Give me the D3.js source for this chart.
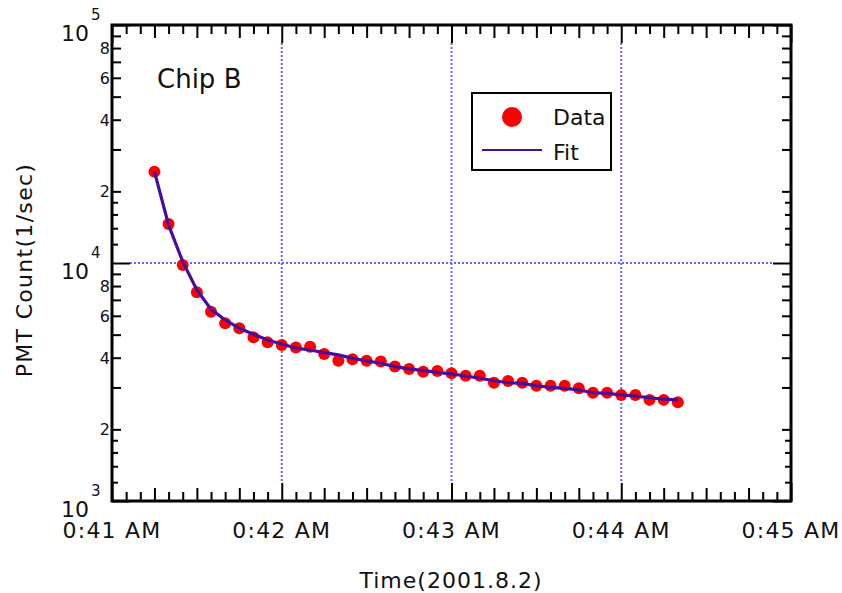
<!DOCTYPE html>
<html>
<head>
<meta charset="utf-8">
<script src="https://cdn.jsdelivr.net/npm/d3@7"></script>
<style>
  body { margin: 0; background: #fff; }
  svg { display: block; font-family: "DejaVu Sans", sans-serif; }
</style>
</head>
<body>
<div id="chart"></div>
<script>
// sample times (2001.8.2), every 5 s
var times = ["0:41:15","0:41:20","0:41:25","0:41:30","0:41:35","0:41:40","0:41:45","0:41:50",
             "0:41:55","0:42:00","0:42:05","0:42:10","0:42:15","0:42:20","0:42:25","0:42:30",
             "0:42:35","0:42:40","0:42:45","0:42:50","0:42:55","0:43:00","0:43:05","0:43:10",
             "0:43:15","0:43:20","0:43:25","0:43:30","0:43:35","0:43:40","0:43:45","0:43:50",
             "0:43:55","0:44:00","0:44:05","0:44:10","0:44:15","0:44:20"];
// measured PMT count (1/sec)
var counts = [24190,14580,9810,7530,6240,5580,5320,4870,
              4640,4520,4420,4450,4150,3880,3940,3880,
              3860,3670,3590,3490,3520,3440,3360,3360,
              3140,3190,3140,3050,3050,3050,2975,2850,
              2850,2790,2790,2660,2660,2600];
// fitted curve at the same times
var fitCounts = [24190,14440,10130,7700,6390,5760,5320,5020,
                 4750,4570,4390,4310,4200,4110,3980,3880,
                 3790,3670,3590,3530,3470,3420,3350,3280,
                 3200,3140,3120,3050,3000,2975,2930,2850,
                 2835,2790,2760,2715,2680,2660];
var xTickLabels = ["0:41 AM","0:42 AM","0:43 AM","0:44 AM","0:45 AM"];
var yLabelValues = [2,4,6,8];
var decades = [1e3,1e4,1e5];

var W = 842, H = 593;
var plotL = 112, plotR = 791, plotT = 25, plotB = 501;

function parseT(s) {
    var p = s.split(":").map(Number);
    return new Date(2001, 7, 2, p[0], p[1], p[2] || 0);
}

var x = d3.scaleTime()
    .domain([parseT("0:41:00"), parseT("0:45:00")])
    .range([plotL, plotR]);
var y = d3.scaleLog()
    .domain([1e3, 1e5])
    .range([plotB, plotT]);

var svg = d3.select("#chart").append("svg")
    .attr("width", W)
    .attr("height", H);

// tick sets
var majorX = d3.timeMinute.range(parseT("0:41:00"), parseT("0:45:01"));
var midX = d3.timeSecond.every(15).range(parseT("0:41:00"), parseT("0:45:00"))
    .filter(function(d) { return d.getSeconds() !== 0; });
var minorX = d3.timeSecond.every(5).range(parseT("0:41:00"), parseT("0:45:00"))
    .filter(function(d) { return d.getSeconds() % 15 !== 0; });
var minorY = [], fracY = [];
[1e3, 1e4].forEach(function(dec) {
    [1.2,1.4,1.6,1.8].forEach(function(m) { fracY.push(m * dec); });
    [2,3,4,5,6,7,8,9].forEach(function(m) { minorY.push(m * dec); });
});

// grid (dotted blue)
var grid = svg.append("g")
    .attr("stroke", "#6464ff")
    .attr("stroke-width", 2)
    .attr("stroke-dasharray", "2,2");
grid.selectAll("line.v")
    .data(majorX.slice(1, -1))
    .enter().append("line")
    .attr("x1", function(d) { return x(d); })
    .attr("x2", function(d) { return x(d); })
    .attr("y1", plotT + 18)
    .attr("y2", plotB - 18);
grid.append("line")
    .attr("x1", plotL + 18)
    .attr("x2", plotR - 18)
    .attr("y1", y(1e4))
    .attr("y2", y(1e4));

// inward ticks on all four sides
function tickAxis(axisFn, scale, values, len, transform) {
    var g = svg.append("g")
        .attr("transform", transform)
        .call(axisFn(scale).tickValues(values).tickSize(-len).tickFormat(""));
    g.select(".domain").remove();
    g.selectAll("line").attr("stroke", "#000").attr("stroke-width", 2);
}
tickAxis(d3.axisBottom, x, majorX, 18, "translate(0," + plotB + ")");
tickAxis(d3.axisBottom, x, midX, 13, "translate(0," + plotB + ")");
tickAxis(d3.axisBottom, x, minorX, 9, "translate(0," + plotB + ")");
tickAxis(d3.axisTop, x, majorX, 18, "translate(0," + plotT + ")");
tickAxis(d3.axisTop, x, midX, 13, "translate(0," + plotT + ")");
tickAxis(d3.axisTop, x, minorX, 9, "translate(0," + plotT + ")");
tickAxis(d3.axisLeft, y, decades, 18, "translate(" + plotL + ",0)");
tickAxis(d3.axisLeft, y, minorY, 9, "translate(" + plotL + ",0)");
tickAxis(d3.axisLeft, y, fracY, 6, "translate(" + plotL + ",0)");
tickAxis(d3.axisRight, y, decades, 18, "translate(" + plotR + ",0)");
tickAxis(d3.axisRight, y, minorY, 9, "translate(" + plotR + ",0)");
tickAxis(d3.axisRight, y, fracY, 6, "translate(" + plotR + ",0)");

// frame
svg.append("rect")
    .attr("x", plotL)
    .attr("y", plotT)
    .attr("width", plotR - plotL)
    .attr("height", plotB - plotT)
    .attr("fill", "none")
    .attr("stroke", "#000")
    .attr("stroke-width", 3);

// x tick labels
svg.append("g").selectAll("text")
    .data(majorX)
    .enter().append("text")
    .attr("x", function(d) { return x(d); })
    .attr("y", plotB + 37)
    .attr("text-anchor", "middle")
    .attr("font-size", 22)
    .attr("letter-spacing", 1.2)
    .attr("fill", "#111")
    .text(function(d, i) { return xTickLabels[i]; });

// y tick labels: decades with superscript
var decG = svg.append("g").selectAll("g")
    .data(decades)
    .enter().append("g");
decG.append("text")
    .attr("x", plotL - 51)
    .attr("y", function(d) { return y(d) + 16; })
    .attr("font-size", 22)
    .attr("fill", "#111")
    .text("10");
decG.append("text")
    .attr("x", plotL - 21)
    .attr("y", function(d) { return y(d) - 5; })
    .attr("font-size", 15)
    .attr("fill", "#111")
    .text(function(d) { return Math.round(Math.log10(d)); });

// y tick labels: 2 4 6 8
var mLabels = [];
[1e3, 1e4].forEach(function(dec) {
    yLabelValues.forEach(function(m) { mLabels.push({v: m * dec, m: m}); });
});
svg.append("g").selectAll("text")
    .data(mLabels)
    .enter().append("text")
    .attr("x", plotL - 2)
    .attr("y", function(d) { return y(d.v) + 6; })
    .attr("text-anchor", "end")
    .attr("font-size", 16)
    .attr("fill", "#111")
    .text(function(d) { return d.m; });

// axis titles
svg.append("text")
    .attr("x", 451)
    .attr("y", 588)
    .attr("text-anchor", "middle")
    .attr("font-size", 22)
    .attr("letter-spacing", 1)
    .attr("fill", "#111")
    .text("Time(2001.8.2)");
svg.append("text")
    .attr("transform", "translate(32,270) rotate(-90)")
    .attr("text-anchor", "middle")
    .attr("font-size", 22)
    .attr("letter-spacing", 1.3)
    .attr("fill", "#111")
    .text("PMT Count(1/sec)");

svg.append("text")
    .attr("x", 157)
    .attr("y", 88)
    .attr("font-size", 26)
    .attr("fill", "#111")
    .text("Chip B");

// data and fit
var data = times.map(function(t, i) {
    return {t: parseT(t), v: counts[i], f: fitCounts[i]};
});
svg.append("g").selectAll("circle")
    .data(data)
    .enter().append("circle")
    .attr("cx", function(d) { return x(d.t); })
    .attr("cy", function(d) { return y(d.v); })
    .attr("r", 6)
    .attr("fill", "#ff0000");
svg.append("path")
    .datum(data)
    .attr("fill", "none")
    .attr("stroke", "#4a0c9c")
    .attr("stroke-width", 3.2)
    .attr("d", d3.line()
        .x(function(d) { return x(d.t); })
        .y(function(d) { return y(d.f); }));

// legend
var lg = svg.append("g");
lg.append("rect")
    .attr("x", 472)
    .attr("y", 93)
    .attr("width", 139)
    .attr("height", 77)
    .attr("fill", "#fff")
    .attr("stroke", "#000")
    .attr("stroke-width", 2);
lg.append("circle")
    .attr("cx", 512)
    .attr("cy", 117)
    .attr("r", 10)
    .attr("fill", "#ff0000");
lg.append("line")
    .attr("x1", 482)
    .attr("x2", 542)
    .attr("y1", 150)
    .attr("y2", 150)
    .attr("stroke", "#4a0c9c")
    .attr("stroke-width", 2);
lg.append("text")
    .attr("x", 553)
    .attr("y", 125)
    .attr("font-size", 22)
    .attr("fill", "#111")
    .text("Data");
lg.append("text")
    .attr("x", 553)
    .attr("y", 160)
    .attr("font-size", 22)
    .attr("fill", "#111")
    .text("Fit");
</script>
</body>
</html>
